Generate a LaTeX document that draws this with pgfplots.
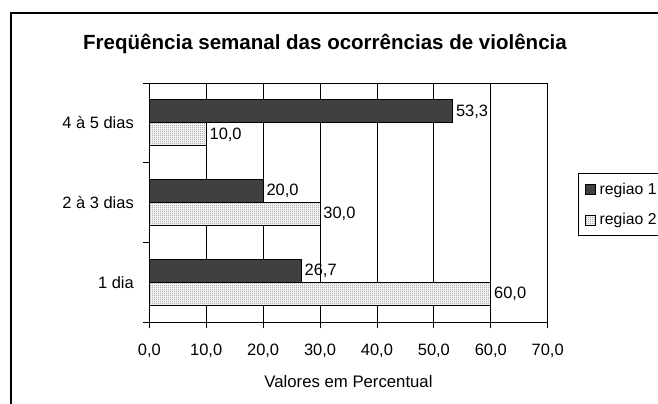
\documentclass[border=0pt]{standalone}
\usepackage{fontspec}
\setmainfont{Liberation Sans}
\usepackage{pgfplots}
\pgfplotsset{compat=1.18}
\usetikzlibrary{patterns}
\definecolor{reg1}{HTML}{404040}
\definecolor{reg2dot}{HTML}{8C8C8C}
\pgfdeclarepatternformonly{checker}{\pgfpointorigin}{\pgfpoint{2bp}{2bp}}{\pgfpoint{2bp}{2bp}}{%
  \pgfpathrectangle{\pgfpointorigin}{\pgfpoint{1bp}{1bp}}%
  \pgfpathrectangle{\pgfpoint{1bp}{1bp}}{\pgfpoint{1bp}{1bp}}%
  \pgfusepath{fill}}
\begin{document}
\begin{tikzpicture}
\path[use as bounding box] (0,0) rectangle (658bp,-404bp);
\draw[line width=1.6bp] (11bp,-430bp) -- (11bp,-13bp) -- (690bp,-13bp);
\node[font=\bfseries\fontsize{20.6}{24}\selectfont, anchor=base, inner sep=0pt] at (325bp,-49bp) {Freqüência semanal das ocorrências de violência};
\begin{axis}[
  at={(149.3bp,-322.3bp)}, anchor=south west,
  scale only axis, width=398.4bp, height=239.3bp,
  xbar, bar width=23bp,
  xmin=0, xmax=70, xtick={0,10,...,70},
  ymin=-0.5, ymax=2.5,
  ytick={-0.5,0.5,1.5,2.5}, yticklabels={},
  extra y ticks={0,1,2},
  extra y tick labels={1 dia, 2 à 3 dias, 4 à 5 dias},
  extra y tick style={tick style={draw=none}, yticklabel style={xshift=-6bp}},
  xtick pos=bottom, ytick pos=left,
  tick align=outside, major tick length=6bp,
  tick style={black, line width=0.8bp},
  xmajorgrids, grid style={black, line width=0.8bp},
  axis line style={black, line width=0.9bp},
  tick label style={font=\fontsize{16.5}{19}\selectfont},
  xticklabel style={yshift=-12bp, /pgf/number format/fixed, /pgf/number format/fixed zerofill, /pgf/number format/precision=1, /pgf/number format/use comma, /pgf/number format/assume math mode=true},
  xlabel={Valores em Percentual},
  xlabel style={font=\fontsize{16.8}{19}\selectfont, yshift=-11bp},
  point meta=x,
  nodes near coords={\pgfmathprintnumber[fixed,fixed zerofill,precision=1,use comma,assume math mode=true]{\pgfplotspointmeta}},
  every node near coord/.append style={font=\fontsize{16.5}{19}\selectfont, anchor=west, inner sep=3bp, black},
  legend style={at={(1.0773,0.6227)}, anchor=north west, draw=black, line width=0.8bp,
    font=\fontsize{15.8}{19}\selectfont, row sep=14bp, inner xsep=6bp, inner ysep=7bp},
  legend cell align=left,
  legend image code/.code={\draw[#1, line width=0.8bp] (0bp,-5bp) rectangle (10bp,5bp);\path (12bp,0bp);},
  clip=false,
]
\addplot[fill=reg1, draw=black, line width=0.8bp, bar shift=11.5bp] coordinates {(26.7,0) (20.0,1) (53.3,2)};
\addlegendentry{regiao 1}
\addplot[fill=white, draw=black, line width=0.8bp, bar shift=-11.5bp, postaction={pattern=checker, pattern color=reg2dot}] coordinates {(60.0,0) (30.0,1) (10.0,2)};
\addlegendentry{regiao 2}
\end{axis}
\end{tikzpicture}
\end{document}
